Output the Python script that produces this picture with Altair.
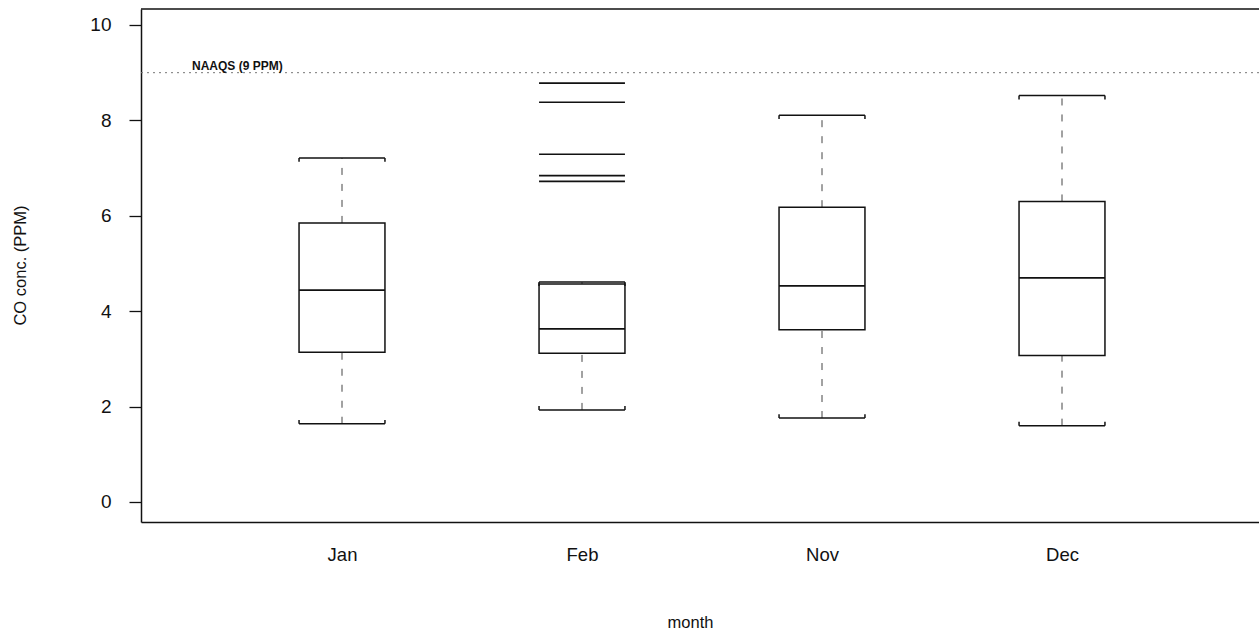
import altair as alt
import pandas as pd

# Monthly CO concentration summaries (PPM)
months = ["Jan", "Feb", "Nov", "Dec"]
lower_whisker = [1.64, 1.93, 1.76, 1.60]
q1 = [3.14, 3.12, 3.61, 3.07]
median = [4.44, 3.63, 4.53, 4.70]
q3 = [5.85, 4.57, 6.18, 6.30]
upper_whisker = [7.21, 4.61, 8.11, 8.52]

# Values beyond the whiskers
outlier_month = ["Feb", "Feb", "Feb", "Feb", "Feb"]
outlier_value = [6.72, 6.84, 7.29, 8.38, 8.78]

naaqs_level = [9.0]
naaqs_label = ["NAAQS (9 PPM)"]
y_ticks = [0, 2, 4, 6, 8, 10]

FONT = "Liberation Sans"
INK = "#111111"
HALF = 0.179          # half box width, in slot units
HOOK = 0.08           # little end-serifs on the whisker caps
W, H = 1118, 513

pos = {m: i + 1 for i, m in enumerate(months)}
boxes = pd.DataFrame({
    "month": months,
    "pos": [pos[m] for m in months],
    "lo": lower_whisker, "q1": q1, "med": median, "q3": q3, "hi": upper_whisker,
})
boxes["left"] = boxes["pos"] - HALF
boxes["right"] = boxes["pos"] + HALF
boxes["hi_hook"] = boxes["hi"] - HOOK
boxes["lo_hook"] = boxes["lo"] + HOOK

outs = pd.DataFrame({"month": outlier_month, "v": outlier_value})
outs["pos"] = outs["month"].map(pos)
outs["left"] = outs["pos"] - HALF
outs["right"] = outs["pos"] + HALF

ref = pd.DataFrame({"v": naaqs_level, "label": naaqs_label})

label_list = "[" + ",".join(f"'{m}'" for m in months) + "]"
x_scale = alt.Scale(domain=[0.1625, 0.1625 + W / 240], nice=False, zero=False)
y_scale = alt.Scale(domain=[-0.42, 10.335], nice=False, zero=False)

x_axis = alt.Axis(
    values=list(range(1, len(months) + 1)),
    labelExpr=f"{label_list}[datum.value - 1]",
    ticks=False, grid=False, labelPadding=23, labelFontSize=18.5,
    labelColor=INK, domainColor=INK, domainWidth=1.5,
    title="month", titleFontSize=16.5, titleFontWeight="normal", titleColor=INK,
    titleX=549, titleY=100, titleBaseline="middle",
)
y_axis = alt.Axis(
    values=y_ticks, tickSize=12, tickColor=INK, tickWidth=1.3,
    grid=False, labelPadding=18, labelFontSize=19, labelColor=INK,
    domainColor=INK, domainWidth=1.5,
    title="CO conc. (PPM)", titleFontSize=16.5, titleFontWeight="normal",
    titleColor=INK, titleX=-121, titleY=256, titleBaseline="middle",
)


def X(field):
    return alt.X(field, type="quantitative", scale=x_scale, axis=x_axis)


def Y(field):
    return alt.Y(field, type="quantitative", scale=y_scale, axis=y_axis)


base = alt.Chart(boxes)
dash = dict(color="#444", strokeWidth=1, strokeDash=[7, 9])
line = dict(color=INK, strokeWidth=1.5)

upper_dash = base.mark_rule(**dash).encode(x=X("pos"), y=Y("q3"), y2="hi")
lower_dash = base.mark_rule(**dash).encode(x=X("pos"), y=Y("lo"), y2="q1")
box = base.mark_rect(fill="white", stroke=INK, strokeWidth=1.5).encode(
    x=X("left"), x2="right", y=Y("q1"), y2="q3")
med = base.mark_rule(color=INK, strokeWidth=1.7).encode(
    x=X("left"), x2="right", y=Y("med"))
cap_hi = base.mark_rule(**line).encode(x=X("left"), x2="right", y=Y("hi"))
cap_lo = base.mark_rule(**line).encode(x=X("left"), x2="right", y=Y("lo"))
hooks = [
    base.mark_rule(**line).encode(x=X(side), y=Y(end), y2=hook)
    for side in ("left", "right")
    for end, hook in (("hi", "hi_hook"), ("lo", "lo_hook"))
]
out_lines = alt.Chart(outs).mark_rule(color=INK, strokeWidth=1.7).encode(
    x=X("left"), x2="right", y=Y("v"))

naaqs_line = alt.Chart(ref).mark_rule(color="#777", strokeWidth=1, strokeDash=[2, 4]).encode(
    x=alt.value(0), x2=alt.value(W), y=Y("v"))
naaqs_text = alt.Chart(ref).mark_text(
    align="left", baseline="alphabetic", dy=-3, font=FONT,
    fontSize=12, fontWeight="bold", color=INK,
).encode(x=alt.value(51), y=Y("v"), text="label:N")

top_frame = alt.Chart(ref).mark_rule(color=INK, strokeWidth=1.5).encode(
    x=alt.value(0), x2=alt.value(W), y=alt.value(0))

chart = alt.layer(
    naaqs_line, naaqs_text, upper_dash, lower_dash, box, med, cap_hi, cap_lo,
    *hooks, out_lines, top_frame,
).properties(
    width=W, height=H,
    autosize=alt.AutoSizeParams(type="none"),
    padding={"left": 141, "top": 9, "right": 0, "bottom": 113},
).configure(font=FONT).configure_view(stroke=None)

chart.save("out.html", embed_options={"renderer": "svg", "actions": False})
